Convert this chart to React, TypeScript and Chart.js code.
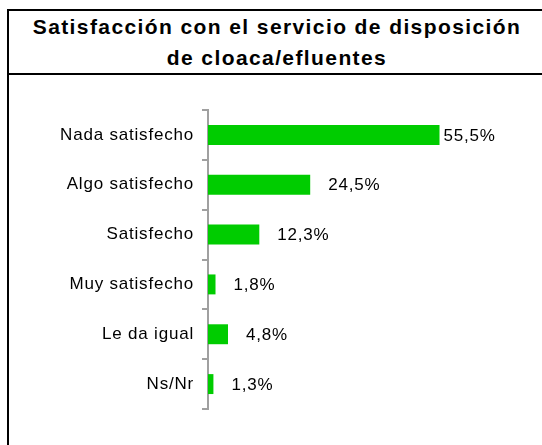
import React, { useEffect, useRef } from "react";
import { Chart, registerables } from "chart.js";

Chart.register(...registerables);

const categories = [
  "Nada satisfecho",
  "Algo satisfecho",
  "Satisfecho",
  "Muy satisfecho",
  "Le da igual",
  "Ns/Nr",
];
const values = [55.5, 24.5, 12.3, 1.8, 4.8, 1.3];
const titleLines = ["Satisfacción con el servicio de disposición", "de cloaca/efluentes"];

const FONT = '"Liberation Sans", Arial, sans-serif';
const fmt = (v: number) => v.toFixed(1).replace(".", ",") + "%";

export default function App() {
  const ref = useRef<HTMLCanvasElement | null>(null);

  useEffect(() => {
    if (!ref.current) return;
    const labelPlugin = {
      id: "valueLabels",
      beforeDraw(chart: any) {
        chart.ctx.letterSpacing = "0.8px";
      },
      afterDatasetsDraw(chart: any) {
        const ctx = chart.ctx;
        const meta = chart.getDatasetMeta(0);
        ctx.save();
        ctx.font = `17px ${FONT}`;
        ctx.letterSpacing = "0.8px";
        ctx.fillStyle = "#000";
        ctx.textBaseline = "middle";
        ctx.textAlign = "left";
        meta.data.forEach((bar: any, i: number) => {
          const text = fmt(values[i]);
          const w = ctx.measureText(text).width;
          let x = bar.x + 18;
          if (x + w > chart.chartArea.right) x = bar.x + 4;
          ctx.fillText(text, x, bar.y + 1);
        });
        ctx.restore();
      },
      afterDraw(chart: any) {
        chart.ctx.letterSpacing = "0px";
      },
    };

    const chart = new Chart(ref.current, {
      type: "bar",
      data: {
        labels: categories,
        datasets: [
          {
            data: values,
            backgroundColor: "#00cc00",
            borderWidth: 0,
            categoryPercentage: 1,
            barPercentage: 0.4,
          },
        ],
      },
      options: {
        indexAxis: "y",
        animation: false,
        responsive: false,
        layout: { padding: { top: 34, bottom: 36, right: 42, left: 0 } },
        plugins: {
          legend: { display: false },
          tooltip: { enabled: false },
          title: { display: false },
        },
        scales: {
          x: {
            display: false,
            min: 0,
            max: 70,
          },
          y: {
            offset: true,
            afterFit: (scale: any) => {
              scale.width = 199;
            },
            grid: {
              offset: true,
              drawOnChartArea: false,
              drawTicks: true,
              tickLength: 6,
              color: "#a0a0a0",
              lineWidth: 2,
            },
            border: { display: true, color: "#a0a0a0", width: 2 },
            ticks: {
              color: "#000",
              padding: 8,
              font: { family: FONT, size: 17 },
            },
          },
        },
      },
      plugins: [labelPlugin],
    } as any);
    return () => chart.destroy();
  }, []);

  return (
    <div
      style={{
        position: "absolute",
        left: 7,
        top: 9,
        width: 540,
        height: 440,
        borderLeft: "2px solid #000",
        borderTop: "2px solid #000",
        boxSizing: "border-box",
        background: "#fff",
      }}
    >
      <div
        style={{
          position: "absolute",
          left: 0,
          top: 0,
          width: 540,
          height: 64,
          borderBottom: "2px solid #000",
          boxSizing: "border-box",
        }}
      >
        <div
          style={{
            width: 536,
            textAlign: "center",
            fontFamily: FONT,
            fontWeight: "bold",
            fontSize: 21,
            letterSpacing: "1.4px",
            lineHeight: "31px",
            color: "#000",
            whiteSpace: "nowrap",
          }}
        >
          {titleLines.map((l, i) => (
            <div key={i}>{l}</div>
          ))}
        </div>
      </div>
      <canvas
        ref={ref}
        width={533}
        height={369}
        style={{ position: "absolute", left: 0, top: 65, width: 533, height: 369 }}
      />
    </div>
  );
}
